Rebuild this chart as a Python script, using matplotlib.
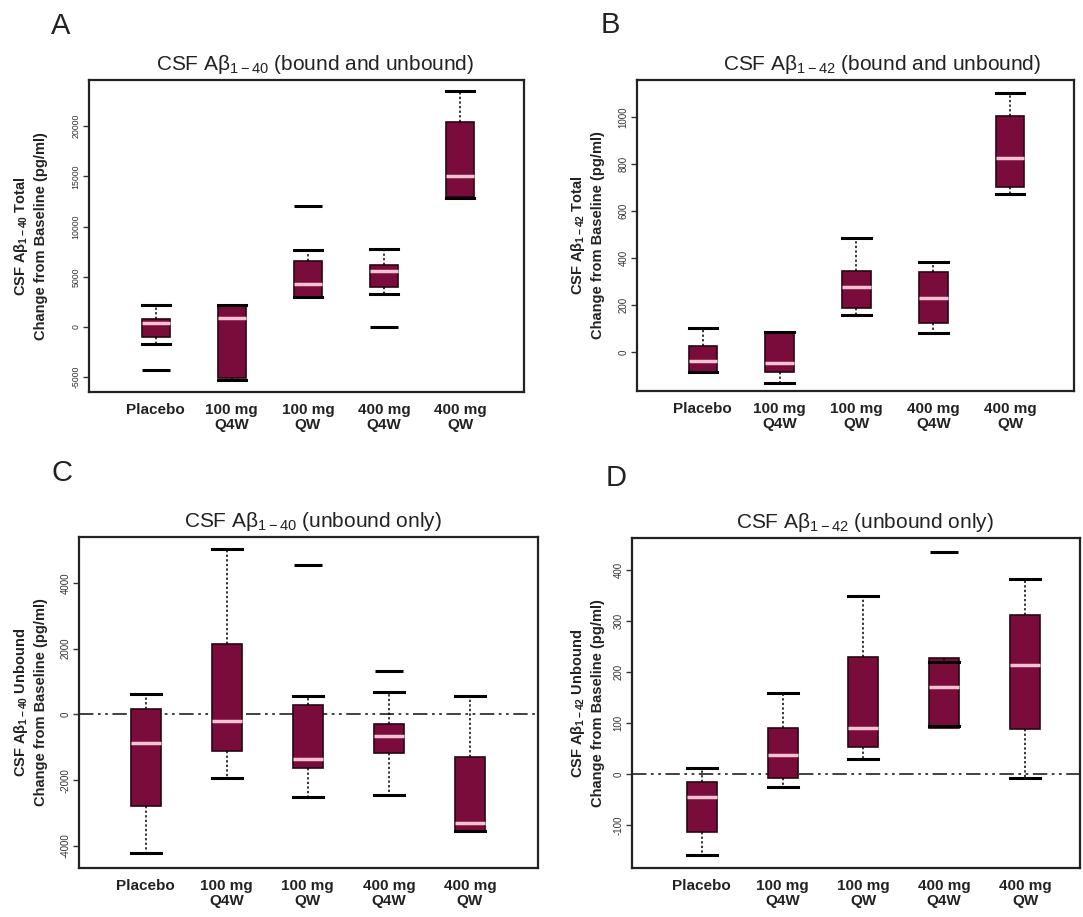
import matplotlib
matplotlib.use("Agg")
import matplotlib.pyplot as plt

plt.rcParams['font.family'] = ['Liberation Sans', 'DejaVu Sans']
plt.rcParams['mathtext.fontset'] = 'custom'
plt.rcParams['mathtext.rm'] = 'Liberation Sans'
plt.rcParams['mathtext.it'] = 'Liberation Sans:italic'
plt.rcParams['mathtext.bf'] = 'Liberation Sans:bold'
plt.rcParams['mathtext.default'] = 'regular'

# ---------------- data ----------------
categories = ["Placebo", "100 mg\nQ4W", "100 mg\nQW", "400 mg\nQ4W", "400 mg\nQW"]

# Panel A: CSF Abeta 1-40 total (bound and unbound)
A_whislo = [-1700, -5300, 2950, 3300, 12800]
A_q1 = [-1000, -5100, 3020, 4000, 12980]
A_med = [350, 850, 4250, 5580, 15070]
A_q3 = [800, 2100, 6570, 6175, 20390]
A_whishi = [2200, 2200, 7670, 7800, 23540]
A_fliers = [[-4300], [], [12080], [30], []]
A_ticks = [-5000, 0, 5000, 10000, 15000, 20000]

# Panel B: CSF Abeta 1-42 total (bound and unbound)
B_whislo = [-82, -129, 159, 84, 674]
B_q1 = [-82, -82, 187, 123, 705]
B_med = [-37, -47, 279, 230, 828]
B_q3 = [28, 83, 346, 340, 1007]
B_whishi = [102, 85, 485, 386, 1105]
B_fliers = [[], [], [], [], []]
B_ticks = [0, 200, 400, 600, 800, 1000]

# Panel C: CSF Abeta 1-40 unbound only
C_whislo = [-4219, -1939, -2517, -2447, -3532]
C_q1 = [-2772, -1100, -1617, -1161, -3532]
C_med = [-875, -188, -1353, -653, -3289]
C_q3 = [167, 2143, 289, -298, -1283]
C_whishi = [623, 5021, 562, 693, 562]
C_fliers = [[], [], [4544], [1322], []]
C_ticks = [-4000, -2000, 0, 2000, 4000]

# Panel D: CSF Abeta 1-42 unbound only
D_whislo = [-158, -25, 30, 95, -8]
D_q1 = [-114, -8, 54, 90, 89]
D_med = [-45, 38, 90, 170, 214]
D_q3 = [-16, 90, 229, 227, 312]
D_whishi = [13, 160, 350, 219, 383]
D_fliers = [[], [], [], [436], []]
D_ticks = [-100, 0, 100, 200, 300, 400]

# ---------------- style ----------------
BOX = "#7a0c3c"
BOX_EDGE = "#2a0412"
MED = "#f6c3d2"
W, H = 1083, 917

fig = plt.figure(figsize=(W / 100, H / 100), dpi=100)


def px_axes(left, top, right, bottom):
    return fig.add_axes([left / W, 1 - bottom / H, (right - left) / W, (bottom - top) / H])


panels = [
    dict(letter="A", box=(89, 80, 524, 392), xlim=(0.124, 5.84), ylim=(-6474, 24600),
         data=(A_whislo, A_q1, A_med, A_q3, A_whishi, A_fliers), ticks=A_ticks, tsize=6.3,
         title="CSF Aβ$_{1-40}$ (bound and unbound)", tx=0.52,
         ylabel="CSF Aβ$_{1-40}$ Total\nChange from Baseline (pg/ml)",
         lab=-0.094, zero=False, letter_xy=(61, 26)),
    dict(letter="B", box=(637, 80, 1074, 391), xlim=(0.145, 5.83), ylim=(-165, 1159),
         data=(B_whislo, B_q1, B_med, B_q3, B_whishi, B_fliers), ticks=B_ticks, tsize=7,
         title="CSF Aβ$_{1-42}$ (bound and unbound)", tx=0.56,
         ylabel="CSF Aβ$_{1-42}$ Total\nChange from Baseline (pg/ml)",
         lab=-0.073, zero=False, letter_xy=(610, 25)),
    dict(letter="C", box=(79, 537, 538, 868), xlim=(0.178, 5.84), ylim=(-4666, 5395),
         data=(C_whislo, C_q1, C_med, C_q3, C_whishi, C_fliers), ticks=C_ticks, tsize=7,
         title="CSF Aβ$_{1-40}$ (unbound only)", tx=0.51,
         ylabel="CSF Aβ$_{1-40}$ Unbound\nChange from Baseline (pg/ml)",
         lab=-0.0675, zero=True, letter_xy=(62, 473)),
    dict(letter="D", box=(632, 538, 1080, 868), xlim=(0.137, 5.68), ylim=(-184, 463),
         data=(D_whislo, D_q1, D_med, D_q3, D_whishi, D_fliers), ticks=D_ticks, tsize=7,
         title="CSF Aβ$_{1-42}$ (unbound only)", tx=0.52,
         ylabel="CSF Aβ$_{1-42}$ Unbound\nChange from Baseline (pg/ml)",
         lab=-0.06, zero=True, letter_xy=(616, 478)),
]

positions = [1, 2, 3, 4, 5]
width = 0.37

for p in panels:
    ax = px_axes(*p["box"])
    wl, q1, md, q3, wh, fl = p["data"]
    stats = [dict(whislo=wl[i], q1=q1[i], med=md[i], q3=q3[i], whishi=wh[i], fliers=fl[i])
             for i in range(len(categories))]
    if p["zero"]:
        ax.axhline(0, color="#333333", lw=1.3, ls=(0, (8, 2.5, 1.5, 2.5, 1.5, 2.5)), zorder=1)
    ax.bxp(stats, positions=positions, widths=width, capwidths=width, patch_artist=True,
           showfliers=True,
           boxprops=dict(facecolor=BOX, edgecolor=BOX_EDGE, linewidth=1.2),
           medianprops=dict(color=MED, linewidth=2.5),
           whiskerprops=dict(color="black", linewidth=1.1, linestyle=(0, (1.5, 1.5))),
           capprops=dict(color="black", linewidth=2.2),
           flierprops=dict(marker="_", markersize=20, markeredgecolor="black",
                           markeredgewidth=2.2))
    ax.set_xlim(*p["xlim"])
    ax.set_ylim(*p["ylim"])
    ax.set_yticks(p["ticks"])
    ax.set_yticklabels([str(t) for t in p["ticks"]], fontsize=p["tsize"], rotation=90,
                       va="center", color="#333333")
    ax.tick_params(axis="y", length=4, width=1, direction="out", pad=2, color="#333333")
    ax.set_xticks(positions)
    ax.set_xticklabels(categories, fontweight="bold", fontsize=11, linespacing=1.05,
                       color="#222222")
    ax.tick_params(axis="x", length=0, pad=8)
    for s in ax.spines.values():
        s.set_color("#222222")
        s.set_linewidth(1.6)
    ax.set_title(p["title"], fontsize=15, pad=7, x=p["tx"], color="#222222")
    ax.set_ylabel(p["ylabel"], fontsize=10.5, fontweight="bold", linespacing=1.35,
                  color="#222222")
    ax.yaxis.set_label_coords(p["lab"], 0.5)
    lx, ly = p["letter_xy"]
    fig.text(lx / W, 1 - ly / H, p["letter"], fontsize=21, ha="center", va="center",
             color="#222222")

fig.savefig("out.png", dpi=100)
